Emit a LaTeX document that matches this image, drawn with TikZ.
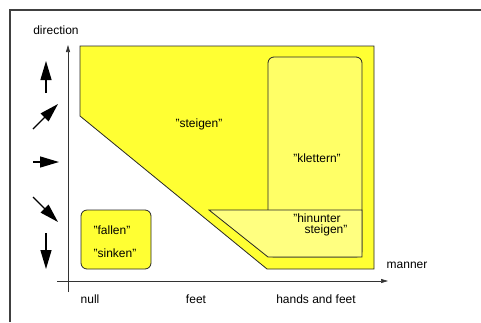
\documentclass[tikz,border=0pt]{standalone}
\usepackage{fontspec}
\setmainfont{Liberation Sans}
\usetikzlibrary{arrows.meta}
\definecolor{ybig}{RGB}{255,255,51}
\definecolor{ykl}{RGB}{255,255,102}
\definecolor{yhi}{RGB}{255,255,128}
\tikzset{
  lbl/.style={font=\fontsize{12}{14}\selectfont, inner sep=0pt},
  region/.style={draw=black!85, line width=0.8pt},
  axis/.style={draw=black!80, line width=0.7pt, -{Triangle[length=7pt,width=4pt]}},
  dirarrow/.style={line width=1.3pt, -{Triangle[length=19pt,width=11pt]}},
  frameline/.style={draw=black!75, line width=1.2pt}
}
\begin{document}
\begin{tikzpicture}[x=1pt,y=-1pt]
\useasboundingbox (0,0) rectangle (481,322);
% frame
\draw[frameline] (10,322) -- (10,10) -- (481,10);
% big region steigen
\draw[region, fill=ybig] (80,46) -- (374,46) -- (374,269) -- (267,269) -- (80,116) -- cycle;
% klettern
\draw[region, fill=ykl, rounded corners=6pt] (268,57) rectangle (362,257);
% hinunter steigen
\draw[region, fill=yhi] (209,210) -- (362,210) -- (362,257) -- (268,257) -- cycle;
% fallen/sinken
\draw[region, fill=ybig, rounded corners=6pt] (81,210) rectangle (151,269);
% axes
\coordinate (yb) at (68,292);
\coordinate (yt) at (68,45);
\coordinate (xl) at (57,281);
\coordinate (xr) at (388,281);
\draw[axis] (yb) -- (yt);
\draw[axis] (xl) -- (xr);
% direction arrows
\coordinate (u1) at (46,93); \coordinate (u2) at (46,61);
\coordinate (ne1) at (33,129); \coordinate (ne2) at (58,104);
\coordinate (r1) at (33,162); \coordinate (r2) at (59,162);
\coordinate (se1) at (33,197); \coordinate (se2) at (58,222);
\coordinate (d1) at (46,233); \coordinate (d2) at (46,269);
\draw[dirarrow] (u1) -- (u2);
\draw[dirarrow] (ne1) -- (ne2);
\draw[dirarrow] (r1) -- (r2);
\draw[dirarrow] (se1) -- (se2);
\draw[dirarrow] (d1) -- (d2);
% labels
\node[lbl] (direction) at (56,30) {direction};
\node[lbl] (manner) at (407,265) {manner};
\node[lbl] (null) at (90,299) {null};
\node[lbl] (feet) at (196,299) {feet};
\node[lbl] (hf) at (316,299) {hands and feet};
\node[lbl] (steigen) at (199,124) {"steigen"};
\node[lbl] (klettern) at (317,158) {"klettern"};
\node[lbl] (hin1) at (317,218) {"hinunter};
\node[lbl] (hin2) at (326,230) {steigen"};
\node[lbl] (fallen) at (112,230) {"fallen"};
\node[lbl] (sinken) at (115,253) {"sinken"};
\end{tikzpicture}
\end{document}
